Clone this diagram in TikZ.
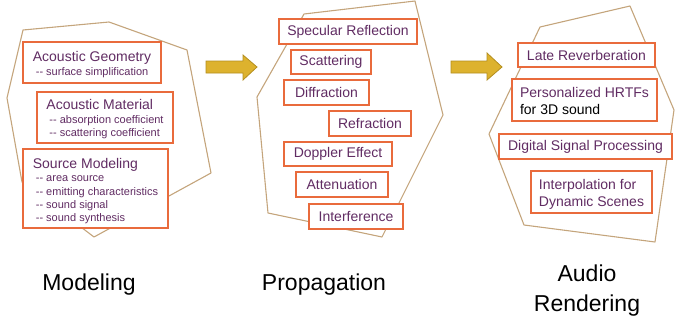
\documentclass[tikz,border=0pt]{standalone}
\usepackage{fontspec}
\setmainfont{Liberation Sans}
\definecolor{boxline}{HTML}{E96B3C}
\definecolor{txt}{HTML}{612C63}
\definecolor{zoneline}{HTML}{C4A57C}
\definecolor{gold}{HTML}{DDB22E}
\definecolor{golddark}{HTML}{B38E1F}
\newcommand{\dsh}{-\kern0pt-}
\newcommand{\subf}{\fontsize{11}{13.3}\selectfont}
\newcommand{\ttl}{\fontsize{14}{17}\selectfont}
\newcommand{\topgap}[1]{\rule{0pt}{#1}}
\tikzset{
  box/.style={draw=boxline, fill=white, line width=1.3pt, text=txt,
    font=\ttl, inner sep=0pt},
  modbox/.style={box, font=\subf},
  zone/.style={draw=zoneline, line width=1.1pt, line join=round},
  stage/.style={font=\fontsize{23}{30}\selectfont, align=center},
  push/.style={fill=gold, draw=golddark, line width=0.8pt}
}
\begin{document}
\begin{tikzpicture}[x=1pt, y=-1pt]
\useasboundingbox (0,0) rectangle (688,324);

% outlines of the three stages
\draw[zone] (23,30) -- (109,22) -- (187,50) -- (211,173) -- (94,237)
  -- (22,182) -- (7,98) -- cycle;
\draw[zone] (304,14) -- (415,1) -- (443,115) -- (382,237) -- (268,213)
  -- (257,97) -- cycle;
\draw[zone] (540,27) -- (630,6) -- (674,110) -- (655,242) -- (524,225)
  -- (489,134) -- cycle;

% arrows between the stages
\draw[push] (206,61) -- (243,61) -- (243,55) -- (257,67) -- (243,80)
  -- (243,73) -- (206,73) -- cycle;
\draw[push] (451,61) -- (487,61) -- (487,53) -- (502,67) -- (487,80)
  -- (487,73) -- (451,73) -- cycle;

% modeling
\node[modbox, minimum width=138pt, minimum height=41pt]
  (geom) at (92,62.5) {\begin{tabular}{@{}l@{}}
  \topgap{16pt}{\ttl Acoustic Geometry}\\[1pt]
  \hspace*{3pt}\dsh\ surface simplification\end{tabular}};
\node[modbox, minimum width=136pt, minimum height=51pt]
  (mat) at (105,117.5) {\begin{tabular}{@{}l@{}}
  \topgap{15pt}{\ttl Acoustic Material}\\[1pt]
  \hspace*{3pt}\dsh\ absorption coefficient\\
  \hspace*{3pt}\dsh\ scattering coefficient\end{tabular}};
\node[modbox, minimum width=145pt, minimum height=79pt]
  (src) at (95.5,188.5) {\begin{tabular}{@{}l@{}}
  \topgap{17pt}{\ttl Source Modeling}\\[0.5pt]
  \hspace*{3pt}\dsh\ area source\\
  \hspace*{3pt}\dsh\ emitting characteristics\\
  \hspace*{3pt}\dsh\ sound signal\\
  \hspace*{3pt}\dsh\ sound synthesis\end{tabular}};

% propagation
\node[box, minimum width=138pt, minimum height=25pt] (spec) at (348,31.5) {Specular Reflection};
\node[box, minimum width=80pt, minimum height=24pt] (scat) at (331,62) {Scattering};
\node[box, minimum width=85pt, minimum height=25pt] (diff) at (326.5,92.5) {Diffraction};
\node[box, minimum width=82pt, minimum height=25pt] (refr) at (370,123.5) {Refraction};
\node[box, minimum width=108pt, minimum height=24pt] (dopp) at (338,154) {Doppler Effect};
\node[box, minimum width=92pt, minimum height=25pt] (att) at (342,184.5) {Attenuation};
\node[box, minimum width=94pt, minimum height=25pt] (intf) at (356,216.5) {Interference};

% audio rendering
\node[box, minimum width=137pt, minimum height=24pt] (late) at (586.5,55) {Late Reverberation};
\node[box, minimum width=145pt, minimum height=42pt]
  (hrtf) at (584.5,100) {\begin{tabular}{@{}l@{}}
  \topgap{17.9pt}Personalized HRTFs\\\textcolor{black}{for 3D sound}\end{tabular}};
\node[box, minimum width=173pt, minimum height=25pt] (dsp) at (585.5,146.5) {Digital Signal Processing};
\node[box, minimum width=121pt, minimum height=42pt]
  (interp) at (591.5,192) {\begin{tabular}{@{}l@{}}
  \topgap{16.9pt}Interpolation for\\Dynamic Scenes\end{tabular}};

% stage names
\node[stage] (lmod) at (89,285) {Modeling};
\node[stage] (lprop) at (324,285) {Propagation};
\node[stage] (lren) at (587,290.5) {Audio\\Rendering};
\end{tikzpicture}
\end{document}
